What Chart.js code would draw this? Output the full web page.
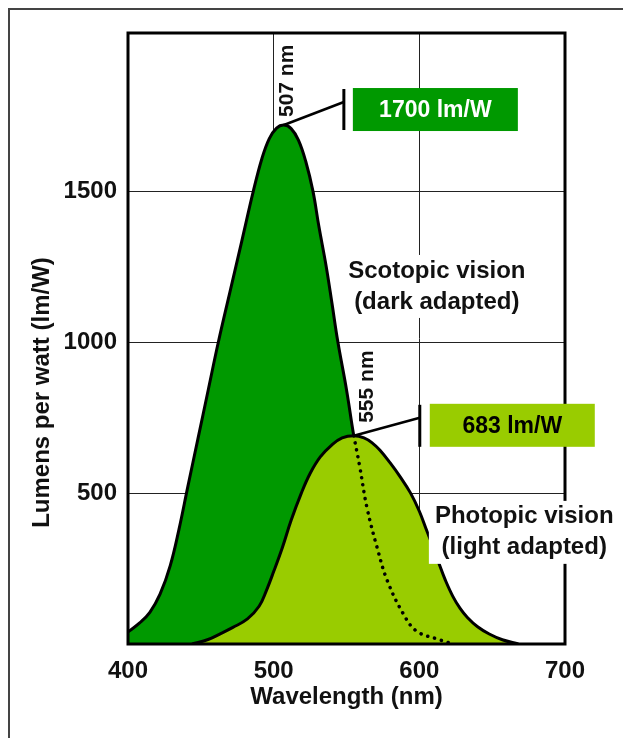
<!DOCTYPE html>
<html>
<head>
<meta charset="utf-8">
<script src="https://cdn.jsdelivr.net/npm/chart.js@4.4.1/dist/chart.umd.min.js"></script>
<style>
    html, body { margin: 0; padding: 0; background: #fff; overflow: hidden; }
    canvas { display: block; }
</style>
</head>
<body>
<canvas id="luminous-efficacy" width="623" height="738"></canvas>
<script>
// scotopic (dark adapted) curve, nm / lm per W
const scotopicNm = [400, 408, 415, 422, 429, 435, 441, 448, 455, 462, 470, 478, 486, 492, 497, 502, 507, 512, 517, 522, 527, 531, 536, 540, 544, 550, 555, 559, 564, 571, 578, 589, 598, 612, 623];
const scotopicLm = [40, 70, 105, 165, 260, 380, 520, 680, 840, 1000, 1167, 1333, 1500, 1610, 1675, 1710, 1720, 1708, 1670, 1600, 1500, 1385, 1253, 1130, 1003, 843, 690, 590, 453, 320, 210, 100, 43, 17, 0];

// photopic (light adapted) curve
const photopicNm = [444, 455, 463, 472, 482, 490, 495, 500, 506, 512, 519, 525, 532, 540, 547, 555, 562, 568, 573, 580, 587, 594, 600, 605, 610, 614, 618, 623, 628, 633, 640, 648, 657, 668];
const photopicLm = [0, 15, 33, 55, 83, 125, 177, 240, 320, 410, 500, 565, 620, 660, 683, 690, 683, 665, 642, 600, 553, 500, 440, 377, 315, 260, 210, 158, 118, 88, 57, 33, 14, 0];

const peakNm = [507, 555];
const peakLm = [1720, 690];
const peakNmLabels = ['507 nm', '555 nm'];
const peakValueLabels = ['1700 lm/W', '683 lm/W'];

const curveLabels = [['Scotopic vision', '(dark adapted)'], ['Photopic vision', '(light adapted)']];
const curveLabelNm = [612, 672];
const curveLabelLm = [1185, 370];

const xTicks = [400, 500, 600, 700];
const yTicks = [500, 1000, 1500];

const darkGreen = '#009900';
const lightGreen = '#99cc00';
const fontFamily = '"Liberation Sans", Arial, Helvetica, sans-serif';

const toPoints = (xs, ys) => xs.map((x, i) => ({ x: x, y: ys[i] }));
const scotopicPoints = toPoints(scotopicNm, scotopicLm);
const hiddenScotopic = scotopicPoints.filter(p => p.x >= peakNm[1]);

// per-callout offsets from the peak pixel
const callouts = [
    { lineTo: [60, -23], bar: [-36, 5], box: [69, -37, 165, 43], fill: darkGreen, color: '#fff', nmAt: [9, -8] },
    { lineTo: [66, -18], bar: [-31, 11], box: [76, -32, 165, 43], fill: lightGreen, color: '#000', nmAt: [19, -13] }
];

const overlay = {
    id: 'overlay',
    beforeDraw (chart) {
        const ctx = chart.ctx;
        ctx.save();
        ctx.fillStyle = '#fff';
        ctx.fillRect(0, 0, chart.width, chart.height);
        ctx.fillStyle = '#444';
        ctx.fillRect(8, 8, 2, chart.height);
        ctx.fillRect(8, 8, chart.width, 2);
        ctx.restore();
    },
    afterDraw (chart) {
        const { ctx, chartArea: a, scales: { x, y } } = chart;
        ctx.save();

        // plot frame
        ctx.strokeStyle = '#000';
        ctx.lineWidth = 3;
        ctx.strokeRect(a.left, a.top, a.right - a.left, a.bottom - a.top);

        // curve names on white
        ctx.font = 'bold 24px ' + fontFamily;
        ctx.textAlign = 'center';
        ctx.textBaseline = 'middle';
        curveLabels.forEach((lines, i) => {
            const cx = x.getPixelForValue(curveLabelNm[i]);
            const cy = y.getPixelForValue(curveLabelLm[i]);
            const w = Math.max(...lines.map(t => ctx.measureText(t).width)) + 12;
            const top = cy - 15.5 - 16;
            ctx.fillStyle = '#fff';
            ctx.fillRect(cx - w / 2, top, w, 31 + 32);
            ctx.fillStyle = '#111';
            lines.forEach((t, k) => ctx.fillText(t, cx, cy - 15.5 + k * 31));
        });

        // peak callouts
        peakNm.forEach((nm, i) => {
            const c = callouts[i];
            const px = x.getPixelForValue(nm);
            const py = y.getPixelForValue(peakLm[i]);

            ctx.strokeStyle = '#000';
            ctx.lineWidth = 2.5;
            ctx.beginPath();
            ctx.moveTo(px, py);
            ctx.lineTo(px + c.lineTo[0], py + c.lineTo[1]);
            ctx.stroke();

            ctx.lineWidth = 3;
            ctx.beginPath();
            ctx.moveTo(px + c.lineTo[0], py + c.bar[0]);
            ctx.lineTo(px + c.lineTo[0], py + c.bar[1]);
            ctx.stroke();

            const [bx, by, bw, bh] = c.box;
            ctx.fillStyle = c.fill;
            ctx.fillRect(px + bx, py + by, bw, bh);
            ctx.fillStyle = c.color;
            ctx.font = 'bold 23px ' + fontFamily;
            ctx.textAlign = 'center';
            ctx.textBaseline = 'middle';
            ctx.fillText(peakValueLabels[i], px + bx + bw / 2, py + by + bh / 2 + 1);

            ctx.save();
            ctx.translate(px + c.nmAt[0], py + c.nmAt[1]);
            ctx.rotate(-Math.PI / 2);
            ctx.font = 'bold 21px ' + fontFamily;
            ctx.fillStyle = '#111';
            ctx.textAlign = 'left';
            ctx.textBaseline = 'alphabetic';
            ctx.fillText(peakNmLabels[i], 0, 0);
            ctx.restore();
        });

        // y axis title
        ctx.translate(42.5, (a.top + a.bottom) / 2 + 54);
        ctx.rotate(-Math.PI / 2);
        ctx.font = 'bold 24px ' + fontFamily;
        ctx.fillStyle = '#111';
        ctx.textAlign = 'center';
        ctx.textBaseline = 'middle';
        ctx.fillText('Lumens per watt (lm/W)', 0, 0);
        ctx.restore();
    }
};

const tickFont = { family: fontFamily, size: 24, weight: 'bold' };
const gridStyle = { color: '#222', lineWidth: 1, drawTicks: false };

new Chart(
    document.getElementById('luminous-efficacy'),
    {
        type: 'line',
        data: {
            datasets: [
                {
                    label: 'Scotopic vision',
                    data: scotopicPoints,
                    fill: 'origin',
                    backgroundColor: darkGreen,
                    borderColor: '#000',
                    borderWidth: 3,
                    pointRadius: 0,
                    tension: 0.4,
                    order: 3
                },
                {
                    label: 'Photopic vision',
                    data: toPoints(photopicNm, photopicLm),
                    fill: 'origin',
                    backgroundColor: lightGreen,
                    borderColor: '#000',
                    borderWidth: 3,
                    pointRadius: 0,
                    tension: 0.4,
                    order: 2
                },
                {
                    label: 'Scotopic (under photopic)',
                    data: hiddenScotopic,
                    fill: false,
                    borderColor: '#000',
                    borderWidth: 3.5,
                    borderDash: [0.1, 7],
                    borderCapStyle: 'round',
                    pointRadius: 0,
                    tension: 0.4,
                    order: 1
                }
            ]
        },
        options: {
            responsive: false,
            animation: false,
            layout: {
                padding: { top: 33, right: 58, left: 0, bottom: 0 }
            },
            plugins: {
                legend: { display: false },
                tooltip: { enabled: false }
            },
            scales: {
                x: {
                    type: 'linear',
                    min: 400,
                    max: 700,
                    z: 1,
                    afterBuildTicks: (scale) => { scale.ticks = xTicks.map(v => ({ value: v })); },
                    afterFit: (scale) => { scale.height = 94; },
                    grid: gridStyle,
                    border: { display: false },
                    ticks: {
                        color: '#111',
                        font: tickFont,
                        padding: 13,
                        maxRotation: 0,
                        autoSkip: false,
                        callback: (value) => String(value)
                    },
                    title: {
                        display: true,
                        text: 'Wavelength (nm)',
                        color: '#111',
                        font: tickFont,
                        padding: { top: 0, bottom: 26 }
                    }
                },
                y: {
                    type: 'linear',
                    min: 0,
                    max: 2025,
                    z: 1,
                    afterBuildTicks: (scale) => { scale.ticks = yTicks.map(v => ({ value: v })); },
                    afterFit: (scale) => { scale.width = 128; },
                    grid: gridStyle,
                    border: { display: false },
                    ticks: {
                        color: '#111',
                        font: tickFont,
                        padding: 11,
                        autoSkip: false,
                        callback: (value) => String(value)
                    }
                }
            }
        },
        plugins: [overlay]
    }
);
</script>
</body>
</html>
